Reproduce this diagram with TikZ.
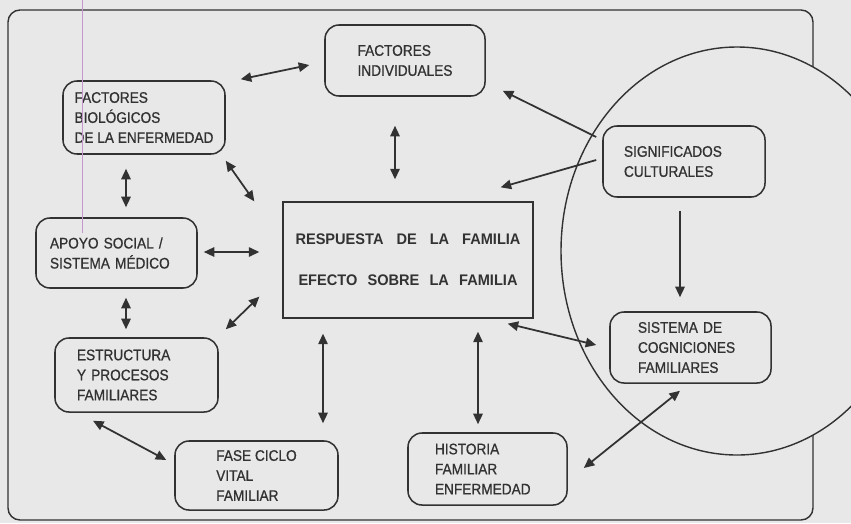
\documentclass[tikz,border=0pt]{standalone}
\usepackage{fontspec}
\setmainfont{Liberation Sans}[FakeStretch=0.89, UprightFeatures={FakeBold=0.8}, BoldFeatures={FakeStretch=0.95}]
\usepackage{tikz}
\usetikzlibrary{arrows.meta,calc,positioning}
\definecolor{scanbg}{RGB}{232,232,232}
\definecolor{inkgray}{RGB}{50,50,50}
\definecolor{penmark}{RGB}{196,150,206}

\begin{document}
\begin{tikzpicture}[
  x=0.03cm, y=-0.03cm,
  every node/.style={font=\fontsize{13.1}{17.1}\selectfont, text=inkgray},
  fbox/.style={draw=inkgray, line width=1.3pt, rounded corners=0.42cm, align=left, inner sep=2pt},
  core/.style={draw=inkgray, line width=1.1pt, minimum width=7.5cm, minimum height=3.48cm, align=center},
  biarr/.style={{Triangle[length=9pt,width=8pt]}-{Triangle[length=9pt,width=8pt]}, line width=1.5pt, inkgray},
  arr/.style={-{Triangle[length=9pt,width=8pt]}, line width=1.5pt, inkgray}
]
\useasboundingbox (0,0) rectangle (851,523);
\fill[scanbg] (0,0) rectangle (851,523);
\clip (0,0) rectangle (851,523);

% frame and circle
\draw[inkgray, line width=1.2pt, rounded corners=0.36cm] (8,10) rectangle (813,520);
\draw[inkgray, line width=1.2pt, fill=scanbg] (737,251) ellipse [x radius=176, y radius=204];

% boxes
\node[fbox, minimum width=4.8cm, minimum height=2.13cm] (indiv) at (405,60.5) {FACTORES\\INDIVIDUALES};
\node[fbox, minimum width=4.86cm, minimum height=2.19cm] (bio) at (144,117.5) {FACTORES\\BIOLÓGICOS\\DE LA ENFERMEDAD};
\node[fbox, inner xsep=0.42cm, text width=3.99cm, minimum height=2.1cm] (apoyo) at (116.5,253) {APOYO SOCIAL /\\SISTEMA MÉDICO};
\node[fbox, inner xsep=0.66cm, text width=3.57cm, minimum height=2.22cm] (estr) at (136.5,375) {ESTRUCTURA\\Y PROCESOS\\FAMILIARES};
\node[fbox, minimum width=4.89cm, minimum height=2.07cm] (fase) at (256.5,475.5) {FASE CICLO\\VITAL\\FAMILIAR};
\node[fbox, inner xsep=0.81cm, text width=3.15cm, minimum height=2.16cm] (hist) at (487.5,469) {HISTORIA\\FAMILIAR\\ENFERMEDAD};
\node[fbox, inner xsep=0.84cm, text width=3.15cm, minimum height=2.13cm] (sist) at (690.5,347.5) {SISTEMA DE\\COGNICIONES\\FAMILIARES};
\node[fbox, inner xsep=0.63cm, text width=3.6cm, minimum height=2.13cm] (signif) at (684,161.5) {SIGNIFICADOS\\CULTURALES};

\node[core] (resp) at (408,260) {\bfseries\makebox[6.75cm][s]{RESPUESTA DE LA FAMILIA}\\[18pt]
  \bfseries\makebox[6.57cm][s]{EFECTO SOBRE LA FAMILIA}};

% connectors
\draw[biarr] ($(bio.north east)+(15,-1)$) -- ($(indiv.west)+(-15,4.5)$);
\draw[biarr] ($(indiv.south)+(-10,29)$) -- ($(resp.north)+(-13,-22)$);
\draw[biarr] ($(bio.south east)+(0,6)$) -- ($(resp.north west)+(-28,0)$);
\draw[biarr] ($(bio.south)+(-18,14)$) -- ($(apoyo.north)+(9.5,-10)$);
\draw[biarr] ($(apoyo.east)+(6,-1)$) -- ($(resp.west)+(-23,-8)$);
\draw[biarr] ($(apoyo.south)+(9.5,9)$) -- ($(estr.north)+(-10.5,-8)$);
\draw[biarr] ($(estr.north east)+(7,-8)$) -- ($(resp.south west)+(-23,-22)$);
\draw[biarr] ($(estr.south)+(-43.5,8)$) -- ($(fase.west)+(-8,-15.5)$);
\draw[biarr] ($(resp.south)+(-85,15)$) -- ($(fase.north)+(66.5,-17)$);
\draw[biarr] ($(resp.south)+(70,13)$) -- ($(hist.north)+(-9.5,-8)$);
\draw[biarr] ($(resp.south east)+(-26,5)$) -- ($(sist.west)+(-13,-2.5)$);
\draw[biarr] ($(hist.east)+(16,-1)$) -- ($(sist.south)+(-10.5,7)$);
\draw[arr] ($(signif.west)+(-6,-24.5)$) -- ($(indiv.south east)+(17,-6)$);
\draw[arr] ($(signif.west)+(-6,-1.5)$) -- ($(resp.north east)+(-33,-14)$);
\draw[arr] ($(signif.south)+(-4,13)$) -- ($(sist.north)+(-10.5,-14)$);

% pen mark
\draw[penmark, line width=0.8pt] (82,0) -- (82,233);
\end{tikzpicture}
\end{document}
